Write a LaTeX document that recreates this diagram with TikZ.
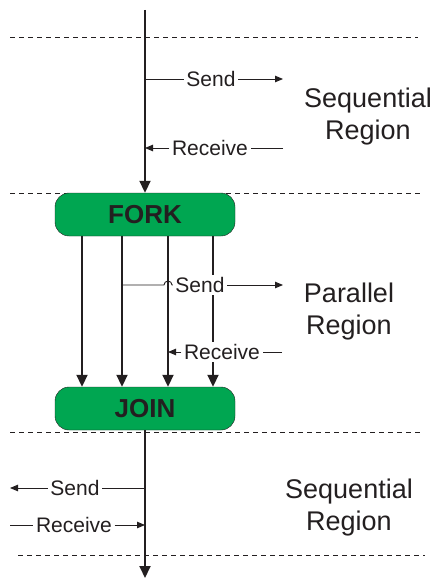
\documentclass[tikz,border=0pt]{standalone}
\usepackage{fontspec}
\setmainfont{Liberation Sans}
\usepackage{xcolor}
\usetikzlibrary{arrows.meta, positioning}
\definecolor{forkgreen}{RGB}{0,166,81}
\definecolor{ink}{RGB}{35,31,32}

\begin{document}
\begin{tikzpicture}[x=1pt, y=-1pt, every node/.style={font=\fontsize{21}{24}\selectfont, text=ink}]
  \tikzset{
    sep/.style={draw=ink, dash pattern=on 5pt off 4pt, line width=0.8pt},
    flow/.style={draw=ink, line width=1.9pt, -{Triangle[length=12pt, width=11pt]}},
    msg/.style={draw=ink, line width=0.9pt},
    msgarr/.style={msg, -{Triangle[length=8pt, width=6.5pt]}},
    lbl/.style={fill=white, inner sep=2.5pt},
    region/.style={font=\fontsize{27}{32}\selectfont, align=center},
    box/.style={draw=ink, fill=forkgreen, rounded corners=14pt,
      minimum width=180pt, minimum height=43pt,
      font=\bfseries\fontsize{26}{28}\selectfont}
  }
  \useasboundingbox (0,0) rectangle (433,588);

  % region borders
  \draw[sep] (10,37) -- (418,37);
  \draw[sep] (10,193) -- (420,193);
  \draw[sep] (10,432) -- (420,432);
  \draw[sep] (18,555) -- (425,555);

  \node[box] (fork) at (145,214.5) {FORK};
  \node[box] (join) at (145,408.5) {JOIN};

  % sequential part, top
  \coordinate (top) at (145,10);
  \draw[flow] (top) -- (fork.north);
  \node[lbl] (send1) at (211,79) {Send};
  \coordinate (send1end) at (283,79);
  \draw[msg] (top |- send1) -- (send1.west);
  \draw[msgarr] (send1.east) -- (send1end);
  \node[lbl] (recv1) at (210,148) {Receive};
  \coordinate (recv1out) at (283,148);
  \draw[msgarr] (recv1.west) -- (top |- recv1);
  \draw[msg] (recv1out) -- (recv1.east);
  \node[region] (seq1) at (368,117) {Sequential\\Region};

  % parallel part
  \foreach \x [count=\i] in {82,122,168,213} {
    \coordinate (p\i) at (\x,300);
    \draw[flow] (fork.south -| p\i) -- (join.north -| p\i);
  }
  \node[lbl] (send2) at (200,285) {Send};
  \coordinate (send2end) at (283,285);
  \draw[msg] (p2 |- send2) -- ([xshift=-4pt]p3 |- send2)
    arc[start angle=180, end angle=0, radius=4pt] -- (send2.west);
  \draw[msgarr] (send2.east) -- (send2end);
  \node[lbl] (recv2) at (222,352) {Receive};
  \coordinate (recv2out) at (282,352);
  \draw[msgarr] (recv2.west) -- (p3 |- recv2);
  \draw[msg] (recv2out) -- (recv2.east);
  \node[region] (par) at (349,312) {Parallel\\Region};

  % sequential part, bottom
  \coordinate (bot) at (145,578);
  \draw[flow] (join.south) -- (bot);
  \node[lbl] (send3) at (75,488) {Send};
  \coordinate (send3end) at (10,488);
  \draw[msg] (join.south |- send3) -- (send3.east);
  \draw[msgarr] (send3.west) -- (send3end);
  \node[lbl] (recv3) at (74,525) {Receive};
  \coordinate (recv3in) at (10,525);
  \draw[msg] (recv3in) -- (recv3.west);
  \draw[msgarr] (recv3.east) -- (join.south |- recv3);
  \node[region] (seq2) at (349,508) {Sequential\\Region};
\end{tikzpicture}
\end{document}
